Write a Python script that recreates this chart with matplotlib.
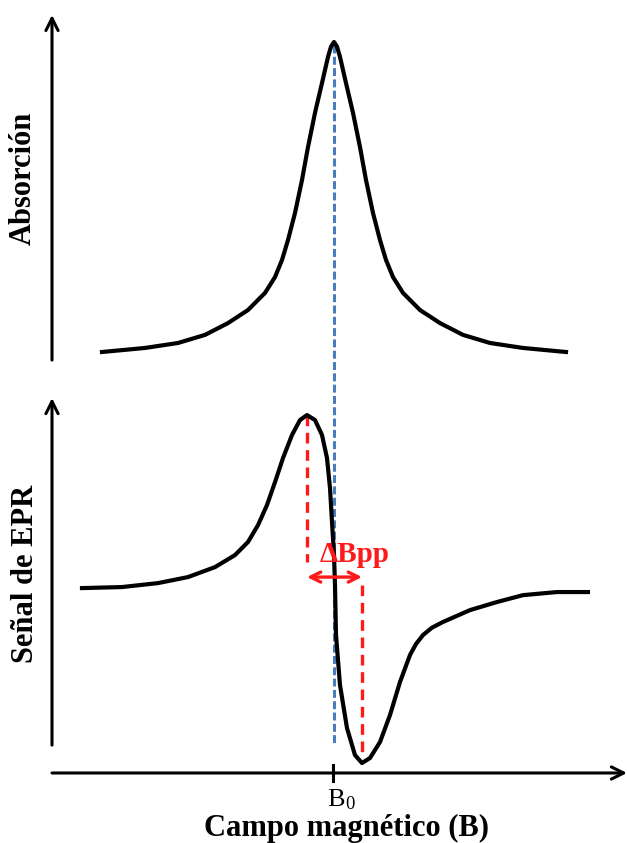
import matplotlib
matplotlib.use("Agg")
import matplotlib.pyplot as plt

plt.rcParams['font.family'] = ['Liberation Serif', 'DejaVu Serif']
plt.rcParams['mathtext.fontset'] = 'stix'

# campo magnetico (unidades arbitrarias) y senales
campo_abs = [102, 145, 178, 205, 228, 248, 265, 275, 282, 288, 295, 302, 308, 315, 322, 328, 331,
             334, 337, 340, 346, 353, 360, 366, 373, 380, 386, 393, 403, 420, 440, 463, 490, 523, 566]
absorcion = [0.003, 0.016, 0.032, 0.058, 0.096, 0.138, 0.193, 0.244, 0.299, 0.363, 0.450, 0.556,
             0.662, 0.772, 0.868, 0.952, 0.985, 1.000, 0.985,
             0.952, 0.868, 0.772, 0.662, 0.556, 0.450, 0.363, 0.299, 0.244, 0.193, 0.138, 0.096,
             0.058, 0.032, 0.016, 0.003]

campo_epr = [82, 122, 158, 188, 215, 235, 248, 258, 267, 275, 283, 292, 300, 307, 315, 322, 327,
             330, 332, 334, 335, 336, 340, 347, 355, 362, 370, 380, 390, 400, 410, 416, 423, 432,
             443, 470, 497, 523, 557, 588]
senal_epr = [-0.006, 0.000, 0.023, 0.058, 0.116, 0.186, 0.262, 0.360, 0.477, 0.610, 0.750, 0.884,
             0.971, 1.000, 0.971, 0.884, 0.750, 0.576, 0.378, 0.186, 0.012, -0.279, -0.570, -0.820,
             -0.977, -1.023, -0.994, -0.901, -0.744, -0.552, -0.395, -0.331, -0.279, -0.236,
             -0.203, -0.134, -0.087, -0.047, -0.029, -0.029]

B0 = 334
pico_max = 307
pico_min = 362

fig = plt.figure(figsize=(6.27, 8.43), dpi=100)

# panel superior: absorcion
ax1 = fig.add_axes([0, 0, 1, 1])
ax1.set_xlim(0, 627)
ax1.set_ylim(-1.576, 1.135)
ax1.axis('off')
ax1.plot(campo_abs, absorcion, color='black', lw=3.0, solid_joinstyle='round', zorder=3)
ax1.plot([B0, B0], [0.99, -1.26], color='#4a7ebb', lw=2.2, ls=(0, (2.6, 1.1)), zorder=2)
ax1.annotate('', xy=(52, 1.087), xytext=(52, -0.023),
             arrowprops=dict(arrowstyle='->', lw=2.2, color='black', mutation_scale=22,
                             shrinkA=0, shrinkB=0))

# panel inferior: derivada (senal EPR)
ax2 = fig.add_axes([0, 0, 1, 1])
ax2.set_xlim(0, 627)
ax2.set_ylim(-1.488, 3.413)
ax2.axis('off')
ax2.patch.set_alpha(0)
ax2.plot(campo_epr, senal_epr, color='black', lw=3.0, solid_joinstyle='round', zorder=3)
ax2.plot([pico_max, pico_max], [1.0, 0.145], color='#ff1a1a', lw=2.4, ls=(0, (3.2, 2.0)), zorder=2)
ax2.plot([pico_min, pico_min], [0.012, -0.994], color='#ff1a1a', lw=2.4, ls=(0, (3.2, 2.0)), zorder=2)
ax2.annotate('', xy=(pico_min, 0.058), xytext=(pico_max, 0.058),
             arrowprops=dict(arrowstyle='<->', lw=2.4, color='#ff1a1a', mutation_scale=18,
                             shrinkA=0, shrinkB=0), zorder=4)
ax2.annotate('', xy=(52, 1.099), xytext=(52, -0.919),
             arrowprops=dict(arrowstyle='->', lw=2.2, color='black', mutation_scale=22,
                             shrinkA=0, shrinkB=0))
ax2.annotate('', xy=(627, -1.081), xytext=(52, -1.081),
             arrowprops=dict(arrowstyle='->', lw=2.2, color='black', mutation_scale=22,
                             shrinkA=0, shrinkB=0))
ax2.plot([B0 - 1, B0 - 1], [-1.035, -1.128], color='black', lw=2.2)

# textos
fig.text(0.037, 1 - 178 / 843, 'Absorción', rotation=90, fontsize=22, fontweight='bold',
         ha='center', va='center')
fig.text(0.040, 1 - 574 / 843, 'Señal de EPR', rotation=90, fontsize=22, fontweight='bold',
         ha='center', va='center')
fig.text(0.565, 1 - 554 / 843, 'ΔBpp', color='#ff1a1a', fontsize=21, fontweight='bold',
         ha='center', va='center')
fig.text(341 / 627, 1 - 800 / 843, r'B$_{\mathregular{0}}$', fontsize=19, ha='center', va='center')
fig.text(347 / 627, 1 - 828 / 843, 'Campo magnético (B)', fontsize=22, fontweight='bold',
         ha='center', va='center')

fig.savefig('out.png', dpi=100)
